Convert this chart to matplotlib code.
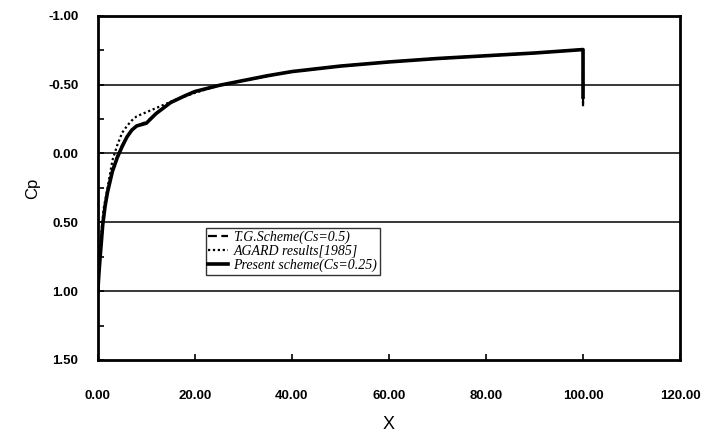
import matplotlib.pyplot as plt
from matplotlib.ticker import MultipleLocator

# ---------- data ----------
x_tg = [0, 0.2, 0.5, 1.0, 1.5, 2.0, 3.0, 4.0, 5.0, 6.0, 7.0, 8.0, 10.0, 12.0, 15.0,
        18.0, 20.0, 25.0, 30.0, 35.0, 40.0, 50.0, 60.0, 70.0, 80.0, 90.0, 100.0, 100.0]
cp_tg = [1.0, 0.88, 0.72, 0.52, 0.38, 0.27, 0.12, 0.02, -0.06, -0.12, -0.17, -0.2, -0.23,
         -0.29, -0.37, -0.42, -0.45, -0.495, -0.53, -0.565, -0.595, -0.635, -0.665,
         -0.69, -0.71, -0.73, -0.755, -0.34]

x_agard = [0, 0.3, 0.7, 1.2, 2.0, 3.0, 4.0, 5.0, 6.0, 7.0, 8.0, 10.0, 12.0, 14.0, 16.0,
           20.0, 25.0, 30.0, 40.0, 50.0, 60.0, 70.0, 80.0, 90.0, 100.0, 100.0]
cp_agard = [1.0, 0.78, 0.58, 0.4, 0.25, 0.05, -0.06, -0.15, -0.2, -0.24, -0.27, -0.3,
            -0.33, -0.36, -0.39, -0.44, -0.495, -0.53, -0.595, -0.635, -0.665, -0.69,
            -0.71, -0.73, -0.755, -0.34]

x_present = [0, 0.2, 0.5, 1.0, 1.5, 2.0, 3.0, 4.0, 5.0, 6.0, 7.0, 8.0, 10.0, 12.0, 15.0,
             18.0, 20.0, 25.0, 30.0, 35.0, 40.0, 50.0, 60.0, 70.0, 80.0, 90.0, 100.0, 100.0]
cp_present = [1.0, 0.88, 0.74, 0.52, 0.38, 0.28, 0.13, 0.03, -0.05, -0.12, -0.17, -0.2, -0.22,
              -0.29, -0.37, -0.42, -0.45, -0.495, -0.53, -0.565, -0.595, -0.635, -0.665,
              -0.69, -0.71, -0.73, -0.755, -0.41]

x_ticks = [0, 20, 40, 60, 80, 100, 120]
y_ticks = [-1.0, -0.5, 0.0, 0.5, 1.0, 1.5]
grid_levels = [-0.5, 0.0, 0.5, 1.0]

labels = ["T.G.Scheme(Cs=0.5)", "AGARD results[1985]", "Present scheme(Cs=0.25)"]

# ---------- figure ----------
fig = plt.figure(figsize=(7.04, 4.4), dpi=100)
ax = fig.add_axes([0.139, 0.182, 0.827, 0.782])

ax.plot(x_tg, cp_tg, color='black', linestyle=(0, (4, 2)), linewidth=1.6, label=labels[0])
ax.plot(x_agard, cp_agard, color='black', linestyle=(0, (1, 1.2)), linewidth=1.6, label=labels[1])
ax.plot(x_present, cp_present, color='black', linestyle='-', linewidth=2.6, label=labels[2])

for lev in grid_levels:
    ax.axhline(lev, color='black', linewidth=1.1, zorder=0)

ax.set_xlim(0, 120)
ax.set_ylim(1.5, -1.0)
ax.set_xticks(x_ticks)
ax.set_yticks(y_ticks)
ax.set_xticklabels([f"{v:.2f}" for v in x_ticks], fontweight='bold',
                   fontsize=9.5, family='Liberation Sans')
ax.set_yticklabels([f"{v:.2f}" for v in y_ticks], fontweight='bold',
                   fontsize=9.5, family='Liberation Sans')
ax.yaxis.set_minor_locator(MultipleLocator(0.25))
ax.tick_params(direction='in', which='both', length=4, width=1.2, pad=14)
ax.tick_params(axis='x', pad=22)
for s in ax.spines.values():
    s.set_linewidth(2.0)

ax.set_xlabel("X", fontsize=13, family='Liberation Sans', labelpad=10)
ax.set_ylabel("Cp", fontsize=12, family='Liberation Sans', labelpad=6)

leg = ax.legend(loc='lower left', bbox_to_anchor=(0.173, 0.228), frameon=True,
                fancybox=False, edgecolor='black', handlelength=1.4,
                borderpad=0.2, labelspacing=0.05, handletextpad=0.4,
                prop={'family': 'Liberation Serif', 'style': 'italic', 'size': 10})
leg.get_frame().set_linewidth(1.0)

fig.savefig("out.png", dpi=100)
